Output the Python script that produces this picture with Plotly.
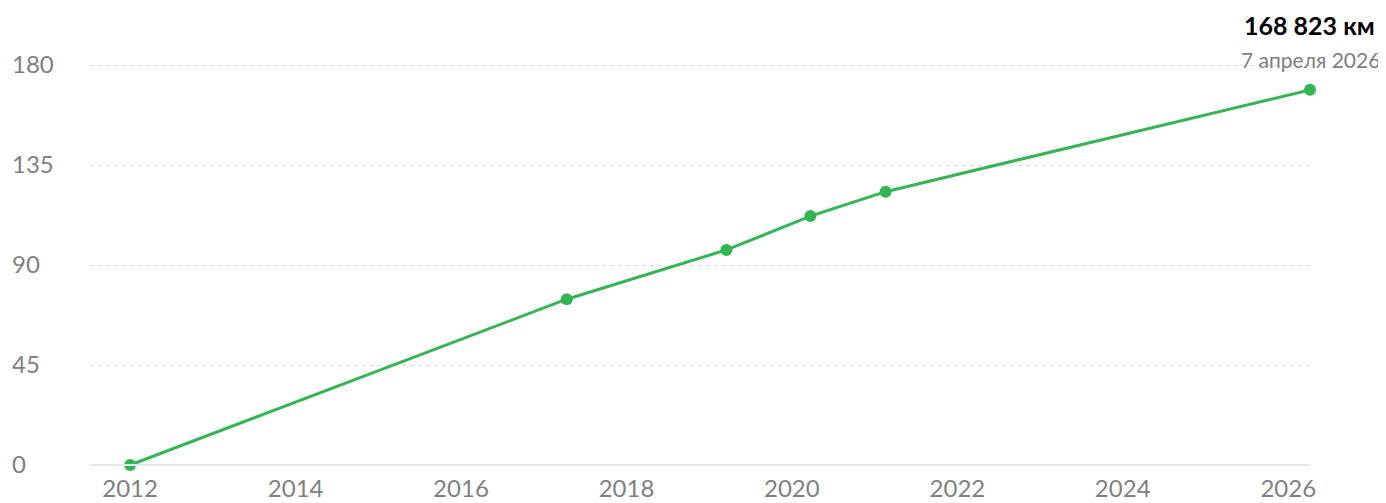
import plotly.graph_objects as go

dates = ["2012-01-01", "2017-04-12", "2019-03-18", "2020-03-23", "2021-02-18", "2026-04-07"]
values = [0, 74.6, 96.8, 112.0, 123.0, 168.823]
y_ticks = [0, 45, 90, 135, 180]
x_ticks = ["2012-01-01", "2014-01-01", "2016-01-01", "2018-01-01", "2020-01-01",
           "2022-01-01", "2024-01-01", "2026-01-01"]
x_labels = ["2012", "2014", "2016", "2018", "2020", "2022", "2024", "2026"]
headline = "168 823 км"
subline = "7 апреля 2026"

GREEN = "#34b553"
GREY = "#808080"
FONT = "Lato"

# page has an 8px body margin -> figure is 8px smaller, coordinates offset by 8
OFF = 8
W, H = 1386 - OFF, 503 - OFF
ml, mr, mt, mb = 0, 76, 37, 18
pw = W - ml - mr
ph = H - mt - mb
YMIN, YMAX = -9, 189

fig = go.Figure()
fig.add_trace(go.Scatter(
    x=dates, y=values, mode="lines+markers",
    line=dict(color=GREEN, width=3),
    marker=dict(color=GREEN, size=12),
    cliponaxis=False, hoverinfo="skip",
))

fig.update_layout(
    width=W, height=H,
    margin=dict(l=ml, r=mr, t=mt, b=mb, autoexpand=False),
    paper_bgcolor="white", plot_bgcolor="white",
    showlegend=False,
    font=dict(family=FONT, color=GREY, size=24),
    xaxis=dict(
        domain=[(90 - OFF - ml) / pw, 1], type="date",
        anchor="free", position=(0 - YMIN) / (YMAX - YMIN),
        range=["2011-07-08", "2026-04-07"],
        tickvals=x_ticks, ticktext=x_labels,
        showgrid=False, zeroline=False, automargin=False,
        showline=True, linecolor="#e6e6e6", linewidth=2,
        ticks="", ticklabelstandoff=2,
        tickfont=dict(family=FONT, size=24, color=GREY),
    ),
    yaxis=dict(
        anchor="free", position=0, automargin=False,
        range=[YMIN, YMAX], tickvals=y_ticks,
        ticklabelposition="inside",
        showgrid=True, gridcolor="#dcdcdc", gridwidth=1, griddash="4px,4px",
        zeroline=False, showline=False, ticks="",
        tickfont=dict(family=FONT, size=24, color=GREY),
    ),
)


def px_to_paper(x, y):
    return (x - OFF - ml) / pw, (mt + ph - (y - OFF)) / ph


hx, hy = px_to_paper(1377, 25)
sx, sy = px_to_paper(1382, 59)
fig.add_annotation(
    x=hx, y=hy, xref="paper", yref="paper", text=f"<b>{headline}</b>",
    showarrow=False, xanchor="right", yanchor="middle",
    font=dict(family=FONT, size=25, color="#000000"),
)
fig.add_annotation(
    x=sx, y=sy, xref="paper", yref="paper", text=subline,
    showarrow=False, xanchor="right", yanchor="middle",
    font=dict(family=FONT, size=21, color=GREY),
)
fig.write_html("out.html")
